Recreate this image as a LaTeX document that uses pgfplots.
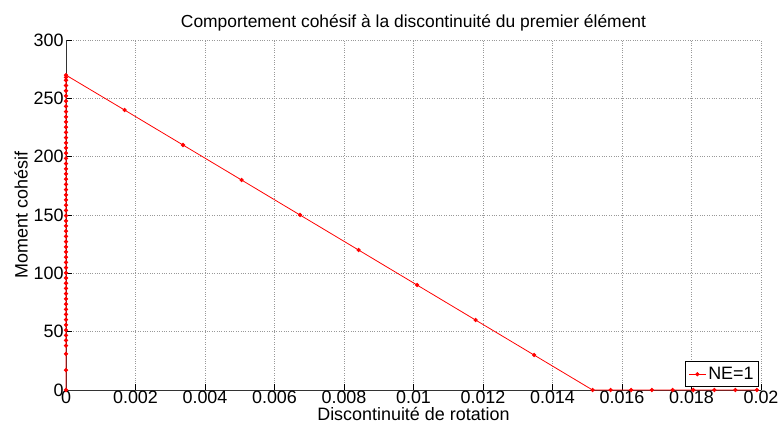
\documentclass[border=0pt]{standalone}
\usepackage{fontspec}
\setmainfont{Liberation Sans}
\usepackage{pgfplots}
\pgfplotsset{compat=1.18}
\begin{document}
\begin{tikzpicture}
\begin{axis}[
  scale only axis, width=695bp, height=350bp,
  xmin=0, xmax=0.02, ymin=0, ymax=300,
  clip=false,
  scaled x ticks=false, scaled y ticks=false,
  axis x line=bottom, axis y line=left,
  axis line style={-, black!80, line width=0.8pt},
  tick align=inside, major tick length=6bp,
  tick style={black, line width=0.5pt},
  xtick={0,0.002,0.004,0.006,0.008,0.01,0.012,0.014,0.016,0.018,0.02},
  xticklabels={0,0.002,0.004,0.006,0.008,0.01,0.012,0.014,0.016,0.018,0.02},
  ytick={0,50,100,150,200,250,300},
  /pgf/number format/assume math mode=true,
  grid=major, major grid style={dotted, gray!80, line width=0.5pt},
  font=\fontsize{18}{20}\selectfont,
  tick label style={font=\fontsize{18}{20}\selectfont},
  x tick label style={anchor=north, yshift=-1bp, inner sep=0pt},
  y tick label style={xshift=1bp},
  title={Comportement cohésif à la discontinuité du premier élément},
  title style={font=\fontsize{17.5}{20}\selectfont, yshift=-1bp},
  xlabel={Discontinuité de rotation},
  xlabel style={at={(rel axis cs:0.5,0)}, anchor=north, yshift=-17bp, inner sep=0pt},
  ylabel={Moment cohésif},
  ylabel style={yshift=-1bp},
  legend style={at={(rel axis cs:1,0)}, anchor=south east, xshift=-2bp, yshift=3bp,
    draw=black, line width=0.8pt, fill=white, font=\fontsize{18}{20}\selectfont,
    inner xsep=3bp, inner ysep=3.5bp},
  legend cell align=left,
]
\coordinate (O) at (rel axis cs:0,0);
\addplot[red, line width=0.8pt, mark=*, mark size=1.7pt, mark options={fill=red}]
  coordinates {
  (0,0) (0,17) (0,31) (0,38.0) (0,42.5) (0,46.9) (0,51.4) (0,55.8) (0,60.3)
  (0,64.8) (0,69.2) (0,73.7) (0,78.1) (0,82.6) (0,87.1) (0,91.5) (0,96.0)
  (0,100.4) (0,104.9) (0,109.4) (0,113.8) (0,118.3) (0,122.7) (0,127.2)
  (0,131.7) (0,136.1) (0,140.6) (0,145.0) (0,149.5) (0,154.0) (0,158.4)
  (0,162.9) (0,167.3) (0,171.8) (0,176.3) (0,180.7) (0,185.2) (0,189.6)
  (0,194.1) (0,198.6) (0,203.0) (0,207.5) (0,211.9) (0,216.4) (0,220.9)
  (0,225.3) (0,229.8) (0,234.2) (0,238.7) (0,243.2) (0,247.6) (0,252.1)
  (0,256.5) (0,261.0) (0,265.5) (0,268.0) (0,269.9)
  (0.001684,240) (0.003367,210) (0.005051,180) (0.006734,150)
  (0.008418,120) (0.010101,90) (0.011785,60) (0.013468,30) (0.015152,0)
  (0.01567,0) (0.01626,0) (0.01686,0) (0.01746,0) (0.01805,0)
  (0.01866,0) (0.01926,0) (0.01988,0)
  };
\addlegendentry{NE=1}
\end{axis}
\pgfresetboundingbox
\path[use as bounding box] (O) ++(-66bp,-39bp) rectangle ++(781bp,429bp);
\end{tikzpicture}
\end{document}
